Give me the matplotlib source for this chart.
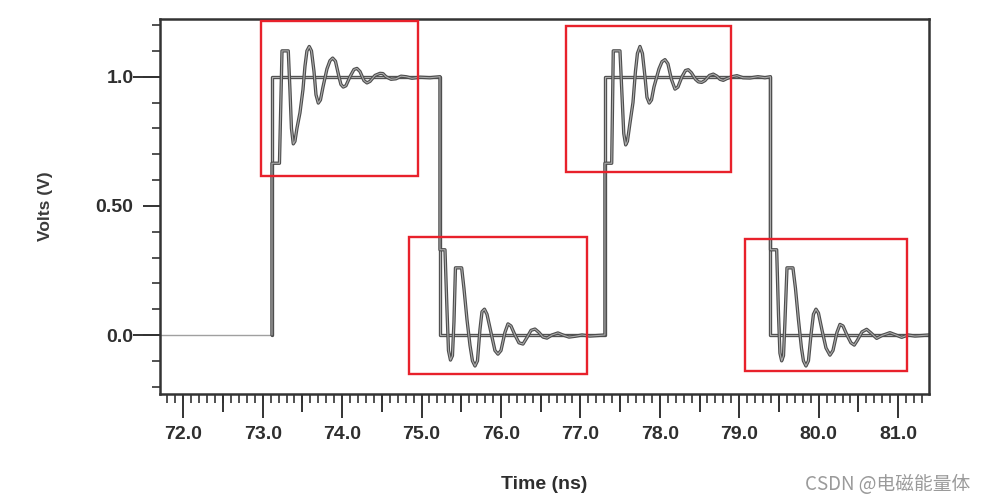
#Importing libraries
import numpy as np
import matplotlib.pyplot as plt
from matplotlib.ticker import MultipleLocator
from matplotlib.patches import Rectangle

plt.rcParams['font.family'] = ['Liberation Sans', 'DejaVu Sans']

#Ideal square wave (ns, V)
square_t = [71.71, 73.117, 73.117, 75.232, 75.232, 77.309, 77.309, 79.393, 79.393, 81.39]
square_v = [0, 0, 1, 1, 0, 0, 1, 1, 0, 0]

#Ringing waveform, one list per edge (ns, V)
rise1_t = [73.117, 73.117, 73.211, 73.243, 73.322, 73.343, 73.362, 73.385, 73.406, 73.431,
           73.469, 73.507, 73.532, 73.557, 73.586, 73.614, 73.646, 73.671, 73.700, 73.727,
           73.759, 73.809, 73.847, 73.881, 73.916, 73.960, 73.985, 74.014, 74.048, 74.099,
           74.149, 74.187, 74.225, 74.275, 74.313, 74.351, 74.414, 74.477, 74.514, 74.552,
           74.615, 74.678, 74.741, 74.804, 74.879, 74.980, 75.106, 75.232]
rise1_v = [0.0, 0.665, 0.665, 1.10, 1.10, 0.95, 0.80, 0.74, 0.75, 0.80,
           0.86, 0.95, 1.04, 1.10, 1.117, 1.10, 1.02, 0.93, 0.898, 0.91,
           0.96, 1.03, 1.062, 1.072, 1.06, 1.00, 0.97, 0.96, 0.965, 1.00,
           1.028, 1.032, 1.02, 0.985, 0.976, 0.982, 1.005, 1.013, 1.012, 1.0,
           0.99, 0.992, 1.002, 1.0, 0.994, 0.998, 0.996, 1.0]

fall1_t = [75.232, 75.232, 75.295, 75.320, 75.339, 75.364, 75.389, 75.408, 75.427, 75.505,
           75.534, 75.572, 75.610, 75.641, 75.673, 75.704, 75.735, 75.761, 75.792, 75.824,
           75.874, 75.924, 75.962, 76.000, 76.050, 76.088, 76.126, 76.176, 76.226, 76.277,
           76.327, 76.378, 76.428, 76.478, 76.529, 76.579, 76.642, 76.717, 76.780, 76.856,
           76.932, 77.020, 77.120, 77.309]
fall1_v = [1.0, 0.33, 0.33, 0.10, -0.06, -0.097, -0.08, 0.05, 0.26, 0.26,
           0.18, 0.06, -0.04, -0.10, -0.12, -0.10, 0.02, 0.09, 0.10, 0.08,
           0.01, -0.06, -0.074, -0.06, 0.01, 0.043, 0.035, 0.0, -0.03, -0.035,
           -0.01, 0.018, 0.023, 0.01, -0.008, -0.012, 0.0, 0.008, 0.0, -0.008,
           -0.005, 0.0, -0.004, 0.0]

rise2_t = [77.309, 77.309, 77.394, 77.414, 77.498, 77.523, 77.546, 77.570, 77.592, 77.624,
           77.662, 77.693, 77.718, 77.750, 77.781, 77.813, 77.838, 77.867, 77.895, 77.926,
           77.989, 78.027, 78.065, 78.102, 78.146, 78.191, 78.228, 78.279, 78.323, 78.358,
           78.398, 78.449, 78.486, 78.527, 78.568, 78.625, 78.673, 78.719, 78.757, 78.799,
           78.845, 78.908, 78.971, 79.047, 79.135, 79.235, 79.324, 79.393]
rise2_v = [0.0, 0.665, 0.665, 1.10, 1.10, 0.93, 0.78, 0.736, 0.75, 0.82,
           0.90, 1.02, 1.09, 1.117, 1.09, 1.00, 0.92, 0.898, 0.91, 0.96,
           1.03, 1.058, 1.066, 1.05, 0.99, 0.952, 0.96, 1.00, 1.024, 1.027,
           1.015, 0.99, 0.98, 0.978, 0.985, 1.005, 1.01, 1.002, 0.99, 0.986,
           0.993, 1.0, 1.004, 0.996, 0.995, 1.0, 0.996, 1.0]

fall2_t = [79.393, 79.393, 79.471, 79.494, 79.512, 79.534, 79.557, 79.575, 79.601, 79.676,
           79.708, 79.745, 79.783, 79.808, 79.840, 79.871, 79.903, 79.934, 79.966, 79.997,
           80.041, 80.092, 80.142, 80.180, 80.230, 80.268, 80.306, 80.356, 80.406, 80.448,
           80.488, 80.545, 80.604, 80.658, 80.730, 80.797, 80.897, 80.973, 81.045, 81.124,
           81.212, 81.39]
fall2_v = [1.0, 0.33, 0.33, 0.08, -0.07, -0.10, -0.08, 0.05, 0.26, 0.26,
           0.18, 0.06, -0.05, -0.10, -0.12, -0.10, 0.0, 0.08, 0.10, 0.085,
           0.02, -0.05, -0.078, -0.06, 0.01, 0.041, 0.035, 0.0, -0.03, -0.039,
           -0.02, 0.012, 0.022, 0.008, -0.013, -0.002, 0.009, 0.0, -0.009, 0.0,
           -0.004, 0.0]

ring_t = rise1_t + fall1_t + rise2_t + fall2_t
ring_v = rise1_v + fall1_v + rise2_v + fall2_v

#Highlight boxes: (t_start, t_end, v_bottom, v_top)
box_t0 = [72.979, 74.843, 76.820, 79.074]
box_t1 = [74.956, 77.081, 78.894, 81.118]
box_v0 = [0.616, -0.151, 0.633, -0.138]
box_v1 = [1.217, 0.379, 1.198, 0.371]

xticks = np.arange(72, 82, 1.0)
xlabels = ['%.1f' % t for t in xticks]
yticks = [0.0, 0.5, 1.0]
ylabels = ['0.0', '0.50', '1.0']

fig = plt.figure(figsize=(9.87, 5.03), dpi=100)
ax = fig.add_axes([160/987, 1-394/503, 769/987, 375/503])

#Waveforms (scanned look: dark outline with lighter centre)
ax.plot(square_t[:2], square_v[:2], color='#a0a0a0', lw=1.0)
for t, v in [(square_t[1:], square_v[1:]), (ring_t, ring_v)]:
    ax.plot(t, v, color='#4d4d4d', lw=2.4, solid_joinstyle='round', solid_capstyle='round')
    ax.plot(t, v, color='#ababab', lw=0.8, solid_joinstyle='round', solid_capstyle='round')

#Red boxes
for t0, t1, v0, v1 in zip(box_t0, box_t1, box_v0, box_v1):
    ax.add_patch(Rectangle((t0, v0), t1-t0, v1-v0, fill=False,
                           edgecolor='#e8212b', lw=1.7, clip_on=False, zorder=5))

ax.set_xlim(71.707, 81.389)
ax.set_ylim(-0.2284, 1.2234)

for s in ax.spines.values():
    s.set_linewidth(1.8)
    s.set_color('#333333')

ax.set_xticks(xticks, xlabels)
ax.xaxis.set_minor_locator(MultipleLocator(0.1))
ax.set_yticks(yticks, ylabels)
ax.yaxis.set_minor_locator(MultipleLocator(0.1))
ax.tick_params(axis='x', which='major', length=17, width=1.4, color='#333333', pad=6)
ax.tick_params(axis='x', which='minor', length=6.5, width=1.2, color='#333333')
ax.tick_params(axis='y', which='major', length=12, width=1.4, color='#333333', pad=7)
ax.tick_params(axis='y', which='minor', length=5.5, width=1.2, color='#333333')
ax.tick_params(which='both', labelsize=14, labelcolor='#2e2e2e')
for lbl in ax.get_xticklabels() + ax.get_yticklabels():
    lbl.set_fontweight('bold')

#Medium ticks at the half nanosecond and longer ticks at 0 V / 1 V
sx = ax.secondary_xaxis('bottom')
sx.set_xticks(np.arange(71.5, 81.5, 1.0))
sx.tick_params(length=13, width=1.4, color='#333333', labelbottom=False)
sx.spines['bottom'].set_visible(False)
sy = ax.secondary_yaxis('left')
sy.set_yticks([0.0, 1.0])
sy.tick_params(length=19.5, width=1.4, color='#333333', labelleft=False)
sy.spines['left'].set_visible(False)

ax.set_xlabel('Time (ns)', fontsize=14, fontweight='bold', color='#2e2e2e')
ax.xaxis.set_label_coords(0.5, -0.218)
ax.set_ylabel('Volts (V)', fontsize=12.5, fontweight='bold', color='#3a3a3a')
ax.yaxis.set_label_coords(-0.139, 0.5)

fig.text(0.983, 0.036, 'CSDN @电磁能量体', ha='right', va='center', fontsize=13.5,
         color='#9a9a9a', family=['Noto Sans CJK SC', 'DejaVu Sans'])

fig.savefig('out.png', dpi=100)
